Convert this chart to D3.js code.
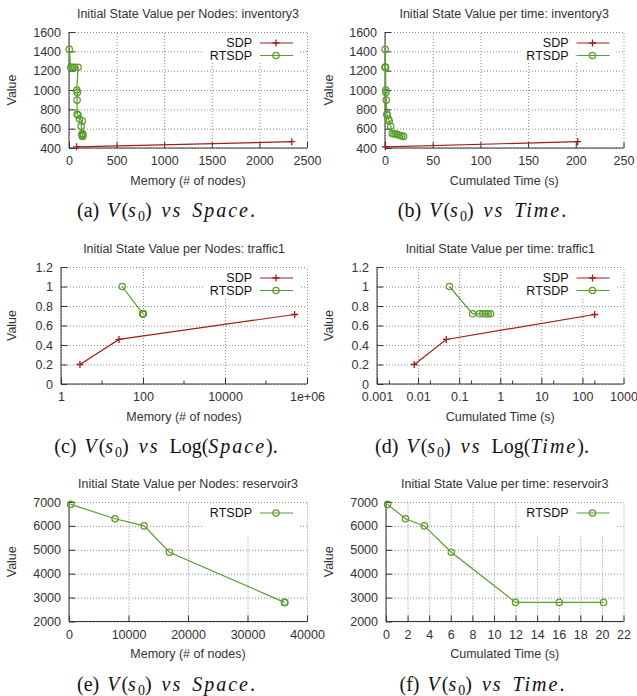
<!DOCTYPE html>
<html>
<head>
<meta charset="utf-8">
<script src="https://cdn.jsdelivr.net/npm/d3@7"></script>
<style>
body { margin: 0; background: #fff; }
svg { display: block; }
.tick text, .lab { font-family: "Liberation Sans", Arial, sans-serif; font-size: 12.5px; fill: #333; }
.grid line { stroke: #8c8c8c; stroke-width: 1; stroke-dasharray: 1,2; }
.axis .domain, .axis line { stroke: #333; stroke-width: 1; }
.cap { font-family: "Liberation Serif", "Times New Roman", serif; font-size: 20px; fill: #111; word-spacing: 3px; }
</style>
</head>
<body>
<script>
//inventory3 data (memory in nodes, cumulated time in s, initial state value)
var invSdpMem = [80, 2340];
var invSdpTime = [0.3, 202];
var invSdpVal = [412, 465];
var invRtMem = [3, 18, 40, 60, 95, 82, 88, 85, 85, 95, 110, 140, 128, 140, 140, 145, 140, 140, 145, 140];
var invRtTime = [0.1, 0.2, 0.3, 0.4, 0.6, 0.8, 1.0, 1.3, 2.0, 2.4, 3.5, 4.5, 6.0, 7.5, 9.5, 11.5, 13.5, 15.5, 17.5, 19.5];
var invRtVal = [1420, 1235, 1235, 1235, 1235, 1000, 975, 895, 750, 740, 700, 680, 625, 550, 545, 545, 540, 530, 525, 520];

//traffic1 data
var trSdpMem = [2.9, 26, 500000];
var trSdpTime = [0.0081, 0.0485, 198];
var trSdpVal = [0.2, 0.457, 0.713];
var trRtMem = [31, 100, 100, 100, 100, 100, 100];
var trRtTime = [0.058, 0.212, 0.31, 0.375, 0.45, 0.51, 0.58];
var trRtVal = [1.0, 0.72, 0.72, 0.72, 0.72, 0.72, 0.72];

//reservoir3 data
var resRtMem = [280, 7740, 12620, 16880, 36240, 36240, 36240];
var resRtTime = [0.15, 1.8, 3.55, 6.05, 12.0, 16.05, 20.15];
var resRtVal = [6900, 6300, 6000, 4900, 2800, 2800, 2800];

//tick values and labels
var invMemTicks = [0, 500, 1000, 1500, 2000, 2500];
var invTimeTicks = [0, 50, 100, 150, 200, 250];
var invValTicks = [400, 600, 800, 1000, 1200, 1400, 1600];
var trMemTicks = [1, 100, 10000, 1000000];
var trMemLabels = ["1", "100", "10000", "1e+06"];
var trMemMinor = [10, 1000, 100000];
var trTimeTicks = [0.001, 0.01, 0.1, 1, 10, 100, 1000];
var trTimeLabels = ["0.001", "0.01", "0.1", "1", "10", "100", "1000"];
var trTimeMinor = [0.002, 0.02, 0.2, 2, 20, 200];
var trValTicks = [0, 0.2, 0.4, 0.6, 0.8, 1, 1.2];
var resMemTicks = [0, 10000, 20000, 30000, 40000];
var resTimeTicks = [0, 2, 4, 6, 8, 10, 12, 14, 16, 18, 20, 22];
var resValTicks = [2000, 3000, 4000, 5000, 6000, 7000];

var sdpColor = "#a01c1c",
    rtColor = "#5a9e2c";

var svg = d3.select("body").append("svg")
    .attr("width", 637)
    .attr("height", 696);

//caption pieces: n = upright, i = math italic, sub = subscript, up = back to baseline
function caption(kind, log, letter){
    var parts = [["(" + letter + ") ", "n"], ["V", "i"], ["(", "n"], ["s", "i"], ["0", "sub"], [")", "up"], [" vs ", "i"]];
    if (log) {
        parts.push(["Log(", "n"], [kind, "i"], [").", "n"]);
    } else {
        parts.push([kind, "i"], [".", "n"]);
    }
    return parts;
}

var panels = [
    {ox: 0, oy: 0, left: 69, right: 307, top: 32, bottom: 148, log: false,
     title: "Initial State Value per Nodes: inventory3", xTitle: "Memory (# of nodes)",
     xDomain: [0, 2500], xTicks: invMemTicks, yDomain: [400, 1600], yTicks: invValTicks, yFmt: d3.format("d"),
     series: [{name: "SDP", x: invSdpMem, y: invSdpVal}, {name: "RTSDP", x: invRtMem, y: invRtVal}],
     cap: caption("Space", false, "a"), keyH: 29},
    {ox: 317, oy: 0, left: 68, right: 306.5, top: 32, bottom: 148, log: false,
     title: "Initial State Value per time: inventory3", xTitle: "Cumulated Time (s)",
     xDomain: [0, 250], xTicks: invTimeTicks, yDomain: [400, 1600], yTicks: invValTicks, yFmt: d3.format("d"),
     series: [{name: "SDP", x: invSdpTime, y: invSdpVal}, {name: "RTSDP", x: invRtTime, y: invRtVal}],
     cap: caption("Time", false, "b"), keyH: 29},
    {ox: 0, oy: 0, left: 61, right: 307, top: 267, bottom: 384, log: true,
     title: "Initial State Value per Nodes: traffic1", xTitle: "Memory (# of nodes)",
     xDomain: [1, 1000000], xTicks: trMemTicks, xLabels: trMemLabels, xMinor: trMemMinor,
     yDomain: [0, 1.2], yTicks: trValTicks, yFmt: function(d){ return String(d); },
     series: [{name: "SDP", x: trSdpMem, y: trSdpVal}, {name: "RTSDP", x: trRtMem, y: trRtVal}],
     cap: caption("Space", true, "c"), keyH: 29},
    {ox: 317, oy: 0, left: 60, right: 306.5, top: 267, bottom: 384, log: true,
     title: "Initial State Value per time: traffic1", xTitle: "Cumulated Time (s)",
     xDomain: [0.001, 1000], xTicks: trTimeTicks, xLabels: trTimeLabels, xMinor: trTimeMinor,
     yDomain: [0, 1.2], yTicks: trValTicks, yFmt: function(d){ return String(d); },
     series: [{name: "SDP", x: trSdpTime, y: trSdpVal}, {name: "RTSDP", x: trRtTime, y: trRtVal}],
     cap: caption("Time", true, "d"), keyH: 29},
    {ox: 0, oy: 0, left: 69, right: 307, top: 502, bottom: 621.5, log: false,
     title: "Initial State Value per Nodes: reservoir3", xTitle: "Memory (# of nodes)",
     xDomain: [0, 40000], xTicks: resMemTicks, yDomain: [2000, 7000], yTicks: resValTicks, yFmt: d3.format("d"),
     series: [{name: "RTSDP", x: resRtMem, y: resRtVal}],
     cap: caption("Space", false, "e"), keyH: 33},
    {ox: 317, oy: 0, left: 69, right: 306.5, top: 502, bottom: 621.5, log: false,
     title: "Initial State Value per time: reservoir3", xTitle: "Cumulated Time (s)",
     xDomain: [0, 22], xTicks: resTimeTicks, yDomain: [2000, 7000], yTicks: resValTicks, yFmt: d3.format("d"),
     series: [{name: "RTSDP", x: resRtTime, y: resRtVal}],
     cap: caption("Time", false, "f"), keyH: 33}
];

function drawMarker(sel, name){
    if (name == "SDP") {
        sel.append("path")
            .attr("d", "M-3.5,0H3.5M0,-3.5V3.5")
            .attr("stroke", sdpColor)
            .attr("stroke-width", 1.3)
            .attr("fill", "none");
    } else {
        sel.append("circle")
            .attr("r", 3.2)
            .attr("stroke", rtColor)
            .attr("stroke-width", 1.2)
            .attr("fill", "none");
    }
}

panels.forEach(function(p){
    var g = svg.append("g").attr("transform", "translate(" + p.ox + "," + p.oy + ")");
    var x = (p.log ? d3.scaleLog() : d3.scaleLinear()).domain(p.xDomain).range([p.left, p.right]);
    var y = d3.scaleLinear().domain(p.yDomain).range([p.bottom, p.top]);
    var h = p.bottom - p.top, w = p.right - p.left;

    //grid
    g.append("g").attr("class", "grid")
        .attr("transform", "translate(0," + p.bottom + ")")
        .call(d3.axisBottom(x).tickValues(p.xTicks).tickSize(-h).tickFormat(""))
        .call(function(s){ s.select(".domain").remove(); });
    g.append("g").attr("class", "grid")
        .attr("transform", "translate(" + p.left + ",0)")
        .call(d3.axisLeft(y).tickValues(p.yTicks).tickSize(-w).tickFormat(""))
        .call(function(s){ s.select(".domain").remove(); });

    //axes
    var xAxis = d3.axisBottom(x).tickValues(p.xTicks).tickSizeInner(-6).tickSizeOuter(0).tickPadding(8.5)
        .tickFormat(p.xLabels ? function(d, i){ return p.xLabels[i]; } : d3.format("d"));
    g.append("g").attr("class", "axis")
        .attr("transform", "translate(0," + p.bottom + ")")
        .call(xAxis)
        .call(function(s){ s.select(".domain").attr("d", "M" + p.left + ",0H" + p.right); });
    g.append("g").attr("class", "axis")
        .attr("transform", "translate(" + p.left + ",0)")
        .call(d3.axisLeft(y).tickValues(p.yTicks).tickSizeInner(-6).tickSizeOuter(0).tickPadding(8).tickFormat(p.yFmt))
        .call(function(s){ s.select(".domain").attr("d", "M0," + p.top + "V" + p.bottom); });
    if (p.xMinor) {
        g.append("g").selectAll("line")
            .data(p.xMinor)
            .enter()
            .append("line")
            .attr("x1", function(d){ return x(d); })
            .attr("x2", function(d){ return x(d); })
            .attr("y1", p.bottom)
            .attr("y2", p.bottom - 3.5)
            .attr("stroke", "#333");
    }

    //texts
    g.append("text").attr("class", "lab")
        .attr("x", (p.left + p.right) / 2).attr("y", p.top - 14.5)
        .attr("text-anchor", "middle").text(p.title);
    g.append("text").attr("class", "lab")
        .attr("x", (p.left + p.right) / 2).attr("y", p.bottom + 36.5)
        .attr("text-anchor", "middle").text(p.xTitle);
    g.append("text").attr("class", "lab")
        .attr("transform", "translate(16," + (p.top + p.bottom) / 2 + ") rotate(-90)")
        .attr("text-anchor", "middle").text("Value");

    //series
    p.series.forEach(function(s){
        var color = s.name == "SDP" ? sdpColor : rtColor;
        var pts = s.x.map(function(d, i){ return [d, s.y[i]]; });
        g.append("path")
            .datum(pts)
            .attr("fill", "none")
            .attr("stroke", color)
            .attr("stroke-width", 1.2)
            .attr("d", d3.line().x(function(d){ return x(d[0]); }).y(function(d){ return y(d[1]); }));
        g.append("g").selectAll("g")
            .data(pts)
            .enter()
            .append("g")
            .attr("transform", function(d){ return "translate(" + x(d[0]) + "," + y(d[1]) + ")"; })
            .each(function(){ drawMarker(d3.select(this), s.name); });
    });

    //key
    var textRight = p.right - 55;
    g.append("rect")
        .attr("x", textRight - 48).attr("y", p.top + 1)
        .attr("width", p.right - 7 - (textRight - 48)).attr("height", p.keyH)
        .attr("fill", "#fff");
    p.series.forEach(function(s, i){
        var ky = p.top + 11 + i * 12.5;
        var color = s.name == "SDP" ? sdpColor : rtColor;
        g.append("text").attr("class", "lab")
            .attr("x", textRight).attr("y", ky).attr("dy", "0.35em")
            .attr("text-anchor", "end").style("fill", "#111").text(s.name);
        g.append("line")
            .attr("x1", p.right - 47).attr("x2", p.right - 14)
            .attr("y1", ky).attr("y2", ky)
            .attr("stroke", color).attr("stroke-width", 1.2);
        drawMarker(g.append("g").attr("transform", "translate(" + (p.right - 31) + "," + ky + ")"), s.name);
    });

    //caption
    var cap = g.append("text").attr("class", "cap")
        .attr("x", p.ox == 0 ? 166 : 165).attr("y", p.bottom + 69)
        .attr("text-anchor", "middle");
    p.cap.forEach(function(part){
        var t = cap.append("tspan").text(part[0]);
        if (part[1] == "i") t.style("font-style", "italic").style("letter-spacing", "2px");
        if (part[1] == "sub") t.attr("dy", 4).style("font-size", "14px");
        if (part[1] == "up") t.attr("dy", -4);
    });
});
</script>
</body>
</html>
